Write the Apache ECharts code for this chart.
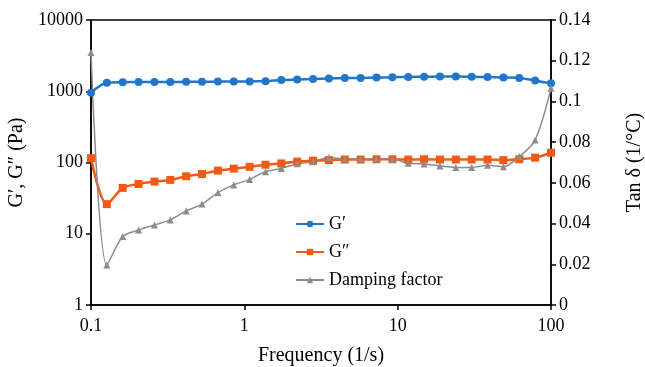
<!DOCTYPE html>
<html>
<head>
<meta charset="utf-8">
<script src="https://cdn.jsdelivr.net/npm/echarts@6/dist/echarts.min.js"></script>
<style>
  html, body { margin: 0; padding: 0; background: #fff; }
  #chart { width: 645px; height: 367px; }
</style>
</head>
<body>
<div id="chart"></div>
<script>
// frequency sweep points (1/s)
const freq = [0.1, 0.1269, 0.161, 0.2043, 0.2593, 0.329, 0.4175, 0.5298, 0.6723, 0.8532,
  1.0826, 1.3738, 1.7433, 2.2122, 2.8072, 3.5622, 4.5204, 5.7362, 7.279, 9.2367,
  11.721, 14.874, 18.874, 23.95, 30.39, 38.57, 48.94, 62.1, 78.8, 100]

// storage modulus G' (Pa)
const gPrime = [955, 1320, 1340, 1345, 1350, 1350, 1355, 1360, 1365, 1370,
  1375, 1385, 1440, 1460, 1480, 1510, 1530, 1540, 1560, 1570,
  1590, 1600, 1610, 1610, 1600, 1580, 1560, 1540, 1420, 1290]

// loss modulus G'' (Pa)
const gDouble = [115, 26, 44, 50, 54, 57, 64, 69, 77, 82,
  87, 93, 97, 103, 106, 108, 110, 110, 111, 111,
  110, 111, 110, 110, 110, 110, 108, 111, 117, 137]

// tan delta
const damping = [0.124, 0.0196, 0.0336, 0.0368, 0.0393, 0.0418, 0.0462, 0.0496, 0.0552, 0.059,
  0.0617, 0.0655, 0.0671, 0.0694, 0.0704, 0.0725, 0.0717, 0.0717, 0.0717, 0.0717,
  0.0696, 0.0693, 0.0683, 0.0676, 0.0676, 0.0686, 0.0679, 0.0729, 0.081, 0.1065]

const pair = (ys) => freq.map((f, i) => [f, ys[i]])

const font = 'Liberation Serif, Times New Roman, serif'
const chart = echarts.init(document.getElementById('chart'))

chart.setOption({
  animation: false,
  textStyle: { fontFamily: font, color: '#000' },
  grid: {
    left: 91, right: 94, top: 20, bottom: 62,
    outerBoundsMode: 'none',
    show: true, borderColor: '#000', borderWidth: 1.5
  },
  legend: {
    orient: 'vertical',
    left: 290,
    top: 210,
    itemWidth: 28,
    itemHeight: 8,
    itemGap: 10,
    textStyle: { fontFamily: font, fontSize: 18, color: '#000' },
    data: ['G′', 'G″', 'Damping factor']
  },
  xAxis: {
    type: 'log',
    logBase: 10,
    min: 0.1,
    max: 100,
    name: 'Frequency (1/s)',
    nameLocation: 'middle',
    nameGap: 41,
    nameTextStyle: { fontSize: 20, fontFamily: font, color: '#000' },
    axisLine: { lineStyle: { color: '#000', width: 1.5 } },
    axisTick: { lineStyle: { color: '#000', width: 1.5 }, length: 5 },
    minorTick: { show: false },
    splitLine: { show: false },
    axisLabel: { fontSize: 18, color: '#000', margin: 12, formatter: (v) => String(v) }
  },
  yAxis: [
    {
      type: 'log',
      logBase: 10,
      min: 1,
      max: 10000,
      name: 'G′, G″ (Pa)',
      nameLocation: 'middle',
      nameGap: 59,
      nameTextStyle: { fontSize: 20, fontFamily: font, color: '#000' },
      axisLine: { show: true, lineStyle: { color: '#000', width: 1.5 } },
      axisTick: { show: true, lineStyle: { color: '#000', width: 1.5 }, length: 5 },
      splitLine: { show: false },
      axisLabel: { fontSize: 18, color: '#000', margin: 8, formatter: (v) => String(v) }
    },
    {
      type: 'value',
      min: 0,
      max: 0.14,
      interval: 0.02,
      position: 'right',
      name: 'Tan δ (1/°C)',
      nameLocation: 'middle',
      nameGap: 74,
      nameRotate: 90,
      nameTextStyle: { fontSize: 20, fontFamily: font, color: '#000' },
      axisLine: { show: true, lineStyle: { color: '#000', width: 1.5 } },
      axisTick: { show: true, lineStyle: { color: '#000', width: 1.5 }, length: 5 },
      splitLine: { show: false },
      axisLabel: { fontSize: 18, color: '#000', margin: 8, formatter: (v) => String(+v.toFixed(2)) }
    }
  ],
  series: [
    {
      name: 'G′',
      type: 'line',
      yAxisIndex: 0,
      data: pair(gPrime),
      smooth: 0.3,
      symbol: 'circle',
      symbolSize: 8,
      lineStyle: { width: 2.5, color: '#2176CC' },
      itemStyle: { color: '#2176CC' }
    },
    {
      name: 'G″',
      type: 'line',
      yAxisIndex: 0,
      data: pair(gDouble),
      smooth: 0.3,
      symbol: 'rect',
      symbolSize: 8,
      lineStyle: { width: 2.5, color: '#F05A14' },
      itemStyle: { color: '#F05A14' }
    },
    {
      name: 'Damping factor',
      type: 'line',
      yAxisIndex: 1,
      data: pair(damping),
      smooth: 0.3,
      symbol: 'triangle',
      symbolSize: 7,
      lineStyle: { width: 1.5, color: '#8C8C8C' },
      itemStyle: { color: '#8C8C8C' }
    }
  ]
})
</script>
</body>
</html>
